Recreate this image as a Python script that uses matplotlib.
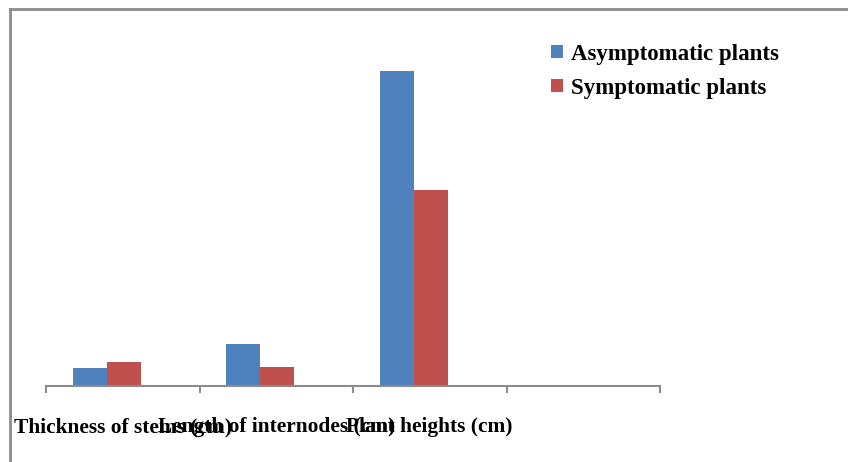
import matplotlib.pyplot as plt
import numpy as np
from matplotlib.lines import Line2D
from matplotlib.transforms import blended_transform_factory

categories = ["Thickness of stems (cm)", "Length of internodes (cm)", "Plant heights (cm)", ""]
asymptomatic = [5.4, 12.6, 94.5, 0]
symptomatic = [7.2, 5.7, 58.8, 0]
series_names = ["Asymptomatic plants", "Symptomatic plants"]

blue = "#4F81BD"
red = "#C0504D"
grey = "#8C8C8C"

plt.rcParams['font.family'] = ['Liberation Serif', 'DejaVu Serif']

fig = plt.figure(figsize=(8.48, 4.62), dpi=100)
W, H = 848, 462
ax = fig.add_axes([46 / W, 76 / H, 614 / W, 333 / H])

x = np.arange(len(categories))
bw = 0.2215
ax.bar(x - 0.215, asymptomatic, width=bw, color=blue, label=series_names[0])
ax.bar(x + 0.007, symptomatic, width=bw, color=red, label=series_names[1])

ax.set_xlim(-0.5, len(categories) - 0.5)
ax.set_ylim(0, 100)
for s in ["top", "right", "left"]:
    ax.spines[s].set_visible(False)
ax.spines["bottom"].set_color(grey)
ax.spines["bottom"].set_linewidth(1.5)
ax.set_yticks([])
ax.set_xticks(np.arange(-0.5, len(categories), 1.0))
ax.set_xticklabels([])
ax.tick_params(axis="x", direction="out", length=5, width=1.5, color=grey)

# category labels sit well below the axis and overlap, like in the original
trans = blended_transform_factory(ax.transData, fig.transFigure)
for i, lab in enumerate(categories):
    ax.text(i, (H - 427) / H, lab, transform=trans,
            ha="center", va="center", fontsize=15.4, fontweight="bold")

# outer frame, only top and left visible
fig.add_artist(Line2D([10 / W, 10 / W], [0, 1 - 9 / H], color=grey, lw=2))
fig.add_artist(Line2D([10 / W, 1], [1 - 9 / H, 1 - 9 / H], color=grey, lw=2))

fig.legend(loc="upper left", bbox_to_anchor=(530 / W, 1 - 23 / H), frameon=False,
           handlelength=0.52, handleheight=0.52, handletextpad=0.39, labelspacing=0.58,
           prop={"size": 16.5, "weight": "bold"})

fig.savefig("out.png", dpi=100)
